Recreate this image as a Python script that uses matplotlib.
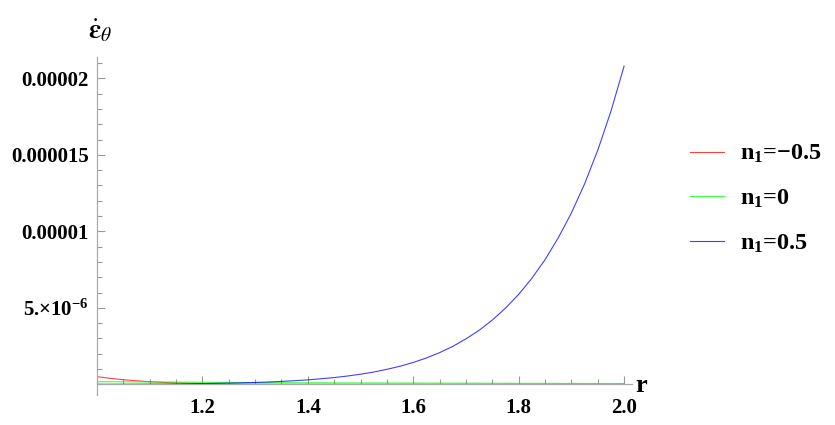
import numpy as np
import matplotlib
matplotlib.use("Agg")
import matplotlib.pyplot as plt
from matplotlib.ticker import FixedLocator, MultipleLocator

plt.rcParams['mathtext.fontset'] = 'custom'
plt.rcParams['mathtext.rm'] = 'Liberation Serif:bold'
plt.rcParams['mathtext.it'] = 'Liberation Serif:italic:bold'
plt.rcParams['mathtext.bf'] = 'Liberation Serif:bold'

# r values and strain-rate readings (units of 1e-6)
r = [1.000, 1.025, 1.050, 1.075, 1.100, 1.125, 1.150, 1.175, 1.200, 1.225,
     1.250, 1.275, 1.300, 1.325, 1.350, 1.375, 1.400, 1.425, 1.450, 1.475,
     1.500, 1.525, 1.550, 1.575, 1.600, 1.625, 1.650, 1.675, 1.700, 1.725,
     1.750, 1.775, 1.800, 1.825, 1.850, 1.875, 1.900, 1.925, 1.950, 1.975, 2.000]
eps_neg = [0.50, 0.39, 0.30, 0.23, 0.17, 0.125, 0.09, 0.065, 0.045, 0.03,
           0.02, 0.013, 0.008, 0.005, 0.003, 0.002, 0.001, 0.001, 0.0, 0.0,
           0.0, 0.0, 0.0, 0.0, 0.0, 0.0, 0.0, 0.0, 0.0, 0.0,
           0.0, 0.0, 0.0, 0.0, 0.0, 0.0, 0.0, 0.0, 0.0, 0.0, 0.0]
eps_zero = [0.17, 0.165, 0.16, 0.155, 0.15, 0.145, 0.14, 0.135, 0.13, 0.125,
            0.12, 0.115, 0.11, 0.107, 0.104, 0.101, 0.098, 0.095, 0.092, 0.09,
            0.088, 0.086, 0.084, 0.082, 0.08, 0.078, 0.076, 0.074, 0.072, 0.07,
            0.068, 0.066, 0.064, 0.062, 0.06, 0.058, 0.056, 0.055, 0.053, 0.052, 0.05]
eps_pos = [0.0, 0.002, 0.005, 0.008, 0.012, 0.018, 0.025, 0.035, 0.045, 0.058,
           0.075, 0.095, 0.12, 0.15, 0.19, 0.235, 0.29, 0.36, 0.44, 0.54,
           0.66, 0.80, 0.98, 1.18, 1.43, 1.72, 2.07, 2.48, 2.97, 3.53,
           4.20, 4.98, 5.88, 6.93, 8.15, 9.57, 11.2, 13.1, 15.3, 17.85, 20.8]

labels = [r'$\mathrm{n}_1$=−0.5', r'$\mathrm{n}_1$=0', r'$\mathrm{n}_1$=0.5']
colors = ['#ff0000', '#00ff00', '#0000ff']

ytick_vals = [5e-6, 1e-5, 1.5e-5, 2e-5]
ytick_labels = [r'5.$\times$10$^{-6}$', '0.00001', '0.000015', '0.00002']
xtick_vals = [1.2, 1.4, 1.6, 1.8, 2.0]
xtick_labels = ['1.2', '1.4', '1.6', '1.8', '2.0']

fig = plt.figure(figsize=(8.35, 4.25), dpi=100)
ax = fig.add_axes([97 / 835, 1 - 395 / 425, 535 / 835, (395 - 57) / 425])

r_arr = np.array(r)
for ys, c, lab in zip([eps_neg, eps_zero, eps_pos], colors, labels):
    ax.plot(r_arr, np.array(ys) * 1e-6, color=c, lw=0.8, label=lab, alpha=0.75)

ax.set_xlim(1.0, 2.015)
ax.set_ylim(-0.7e-6, 2.14e-5)

for s in ['top', 'right']:
    ax.spines[s].set_visible(False)
ax.spines['bottom'].set_position(('data', 0))
ax.spines['left'].set_position(('data', 1.0))
for s in ['bottom', 'left']:
    ax.spines[s].set_color('#aaaaaa')
    ax.spines[s].set_linewidth(0.9)

ax.xaxis.set_major_locator(FixedLocator(xtick_vals))
ax.set_xticklabels(xtick_labels)
ax.xaxis.set_minor_locator(MultipleLocator(0.05))
ax.yaxis.set_major_locator(FixedLocator(ytick_vals))
ax.set_yticklabels(ytick_labels)
ax.yaxis.set_minor_locator(MultipleLocator(1e-6))

ax.tick_params(which='both', direction='in', color='#999999', width=0.8)
ax.tick_params(which='major', length=6)
ax.tick_params(which='minor', length=3.5)
ax.tick_params(axis='x', pad=10)
ax.tick_params(axis='y', pad=6)
for t in ax.get_xticklabels() + ax.get_yticklabels():
    t.set_fontfamily('Liberation Serif')
    t.set_fontweight('bold')
    t.set_fontsize(15)

fig.text(641 / 835, 1 - 385 / 425, 'r', fontfamily='Liberation Serif',
         fontweight='bold', fontsize=19, ha='center', va='center')
fig.text(100 / 835, 1 - 30 / 425, r'$\dot{\mathbf{\varepsilon}}_{\theta}$', fontsize=20,
         ha='center', va='center', math_fontfamily='stix')

leg = fig.legend(loc='upper left', bbox_to_anchor=(690 / 835, 1 - 143 / 425),
                 frameon=False, prop={'family': 'Liberation Serif', 'weight': 'bold', 'size': 17.5},
                 handlelength=1.4, handletextpad=0.65, labelspacing=0.92,
                 borderpad=0, borderaxespad=0)

fig.savefig('out.png', dpi=100, facecolor='white')
